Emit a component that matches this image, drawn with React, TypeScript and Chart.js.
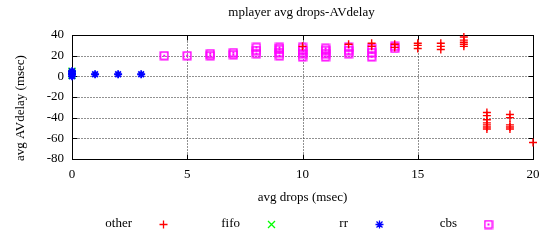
import React, { useEffect, useRef } from "react";
import { Chart, registerables } from "chart.js";

Chart.register(...registerables);

const titleText = "mplayer avg drops-AVdelay";
const xAxisTitle = "avg drops (msec)";
const yAxisTitle = "avg AVdelay (msec)";

const xTickValues = [0, 5, 10, 15, 20];
const yTickValues = [-80, -60, -40, -20, 0, 20, 40];

const seriesNames = ["other", "fifo", "rr", "cbs"];
const seriesColors = ["#ff0000", "#00ff00", "#0000ff", "#ff00ff"];

const otherX = [10, 12, 13, 13, 14, 14, 15, 15, 15, 16, 16, 16, 17, 17, 17, 17, 17, 18, 18, 18, 18, 18, 18, 18, 19, 19, 19, 19, 19, 20];
const otherY = [29, 31, 29, 32, 28, 31, 27, 30, 32, 26, 29, 32, 29, 31, 33, 35, 38, -35, -38, -42, -45, -47, -49, -51, -37, -40, -47, -49, -51, -64];

const fifoX = [0, 0, 0];
const fifoY = [1, 3, 5];

const rrX = [0, 0, 0, 0, 1, 2, 3];
const rrY = [0, 2, 3, 5, 2, 2, 2];

const cbsX = [4, 5, 6, 6, 7, 7, 8, 8, 8, 9, 9, 9, 9, 10, 10, 10, 10, 11, 11, 11, 11, 12, 12, 12, 13, 13, 13, 14, 14];
const cbsY = [20, 20, 20, 22, 21, 23, 22, 25, 28, 20, 23, 26, 28, 19, 22, 25, 28, 19, 22, 25, 27, 22, 25, 28, 19, 23, 27, 27, 29];

const toPoints = (xs: number[], ys: number[]) => xs.map((x, i) => ({ x, y: ys[i] }));

const FONT = "'Liberation Serif', 'DejaVu Serif', serif";

function makeBoxDot(color: string) {
  const c = document.createElement("canvas");
  c.width = 10;
  c.height = 10;
  const g = c.getContext("2d")!;
  g.strokeStyle = color;
  g.lineWidth = 1.6;
  g.strokeRect(1.3, 1.3, 7.4, 7.4);
  g.fillStyle = color;
  g.fillRect(4, 4, 2, 2);
  return c;
}

function drawMarker(ctx: CanvasRenderingContext2D, kind: number, cx: number, cy: number, box: HTMLCanvasElement) {
  ctx.save();
  ctx.strokeStyle = seriesColors[kind];
  ctx.lineWidth = 1.3;
  ctx.beginPath();
  if (kind === 0) {
    ctx.moveTo(cx - 4, cy); ctx.lineTo(cx + 4, cy);
    ctx.moveTo(cx, cy - 4); ctx.lineTo(cx, cy + 4);
    ctx.stroke();
  } else if (kind === 1) {
    ctx.moveTo(cx - 3.5, cy - 3.5); ctx.lineTo(cx + 3.5, cy + 3.5);
    ctx.moveTo(cx + 3.5, cy - 3.5); ctx.lineTo(cx - 3.5, cy + 3.5);
    ctx.stroke();
  } else if (kind === 2) {
    ctx.moveTo(cx - 4, cy); ctx.lineTo(cx + 4, cy);
    ctx.moveTo(cx, cy - 4); ctx.lineTo(cx, cy + 4);
    ctx.moveTo(cx - 3, cy - 3); ctx.lineTo(cx + 3, cy + 3);
    ctx.moveTo(cx + 3, cy - 3); ctx.lineTo(cx - 3, cy + 3);
    ctx.stroke();
  } else {
    ctx.drawImage(box, cx - 5, cy - 5);
  }
  ctx.restore();
}

export default function App() {
  const ref = useRef<HTMLCanvasElement | null>(null);

  useEffect(() => {
    document.body.style.margin = "0";
    const canvas = ref.current;
    if (!canvas) return;
    const box = makeBoxDot(seriesColors[3]);

    const decor = {
      id: "decor",
      beforeDatasetsDraw(chart: any) {
        const { ctx, chartArea: a, scales } = chart;
        const xs = scales.x;
        const ys = scales.y;
        const L = Math.round(a.left) + 0.5;
        const R = Math.round(a.right) + 0.5;
        const T = Math.round(a.top) + 0.5;
        const B = Math.round(a.bottom) + 0.5;
        ctx.save();
        ctx.strokeStyle = "#222";
        ctx.lineWidth = 1;
        ctx.setLineDash([1, 2]);
        ctx.beginPath();
        xTickValues.slice(1, -1).forEach((v) => {
          const px = Math.round(xs.getPixelForValue(v)) + 0.5;
          ctx.moveTo(px, T); ctx.lineTo(px, B);
        });
        yTickValues.slice(1, -1).forEach((v) => {
          const py = Math.round(ys.getPixelForValue(v)) + 0.5;
          ctx.moveTo(L, py); ctx.lineTo(R, py);
        });
        ctx.stroke();
        ctx.setLineDash([]);
        ctx.strokeStyle = "#000";
        ctx.beginPath();
        xTickValues.forEach((v) => {
          const px = Math.round(xs.getPixelForValue(v)) + 0.5;
          ctx.moveTo(px, B); ctx.lineTo(px, B - 5);
          ctx.moveTo(px, T); ctx.lineTo(px, T + 5);
        });
        yTickValues.forEach((v) => {
          const py = Math.round(ys.getPixelForValue(v)) + 0.5;
          ctx.moveTo(L, py); ctx.lineTo(L + 5, py);
          ctx.moveTo(R, py); ctx.lineTo(R - 5, py);
        });
        ctx.stroke();
        ctx.strokeRect(L, T, R - L, B - T);
        ctx.restore();
      },
      afterDraw(chart: any) {
        const { ctx, chartArea: a } = chart;
        ctx.save();
        ctx.fillStyle = "#000";
        ctx.font = `13px ${FONT}`;
        ctx.textAlign = "center";
        ctx.textBaseline = "middle";
        ctx.fillText(titleText, (a.left + a.right) / 2 - 1, 13);
        ctx.fillText(xAxisTitle, (a.left + a.right) / 2, 198);
        ctx.save();
        ctx.translate(21, 108);
        ctx.rotate(-Math.PI / 2);
        ctx.fillText(yAxisTitle, 0, 0);
        ctx.restore();
        // legend
        ctx.textAlign = "right";
        const ends = [132, 240, 348, 457];
        seriesNames.forEach((name, i) => {
          ctx.fillStyle = "#000";
          ctx.fillText(name, ends[i], 224);
          drawMarker(ctx, i, ends[i] + 31.5, 224.5, box);
        });
        ctx.restore();
      },
    };

    const chart = new Chart(canvas, {
      type: "scatter",
      data: {
        datasets: [
          {
            label: seriesNames[0],
            data: toPoints(otherX, otherY),
            pointStyle: "cross",
            pointRadius: 4,
            borderColor: seriesColors[0],
            backgroundColor: seriesColors[0],
            borderWidth: 1.4,
            order: 1,
            clip: false as any,
          },
          {
            label: seriesNames[1],
            data: toPoints(fifoX, fifoY),
            pointStyle: "crossRot",
            pointRadius: 5,
            borderColor: seriesColors[1],
            backgroundColor: seriesColors[1],
            borderWidth: 1.4,
            order: 4,
            clip: false as any,
          },
          {
            label: seriesNames[2],
            data: toPoints(rrX, rrY),
            pointStyle: "star",
            pointRadius: 4,
            borderColor: seriesColors[2],
            backgroundColor: seriesColors[2],
            borderWidth: 1.8,
            order: 3,
            clip: false as any,
          },
          {
            label: seriesNames[3],
            data: toPoints(cbsX, cbsY),
            pointStyle: box as any,
            pointRadius: 4,
            borderColor: seriesColors[3],
            backgroundColor: seriesColors[3],
            borderWidth: 1,
            order: 2,
            clip: false as any,
          },
        ],
      },
      options: {
        animation: false,
        responsive: false,
        maintainAspectRatio: false,
        layout: { padding: { top: 35, right: 17, left: 0, bottom: 0 } },
        plugins: {
          legend: { display: false },
          title: { display: false },
          tooltip: { enabled: false },
        },
        events: [],
        scales: {
          x: {
            type: "linear",
            min: 0,
            max: 20,
            afterBuildTicks: (s: any) => {
              s.ticks = xTickValues.map((v) => ({ value: v }));
            },
            afterFit: (s: any) => {
              s.height = 81;
            },
            grid: { display: false, drawTicks: false },
            border: { display: false },
            ticks: {
              color: "#000",
              font: { family: FONT, size: 13 },
              padding: 8,
              maxRotation: 0,
              autoSkip: false,
              callback: (v: any) => String(v),
            },
          },
          y: {
            type: "linear",
            min: -80,
            max: 40,
            afterBuildTicks: (s: any) => {
              s.ticks = yTickValues.map((v) => ({ value: v }));
            },
            afterFit: (s: any) => {
              s.width = 72;
            },
            grid: { display: false, drawTicks: false },
            border: { display: false },
            ticks: {
              color: "#000",
              font: { family: FONT, size: 13 },
              padding: 8,
              autoSkip: false,
              callback: (v: any) => String(v),
            },
          },
        },
      },
      plugins: [decor],
    });

    return () => chart.destroy();
  }, []);

  return (
    <div style={{ width: 550, height: 240 }}>
      <canvas ref={ref} width={550} height={240} style={{ display: "block" }} />
    </div>
  );
}
